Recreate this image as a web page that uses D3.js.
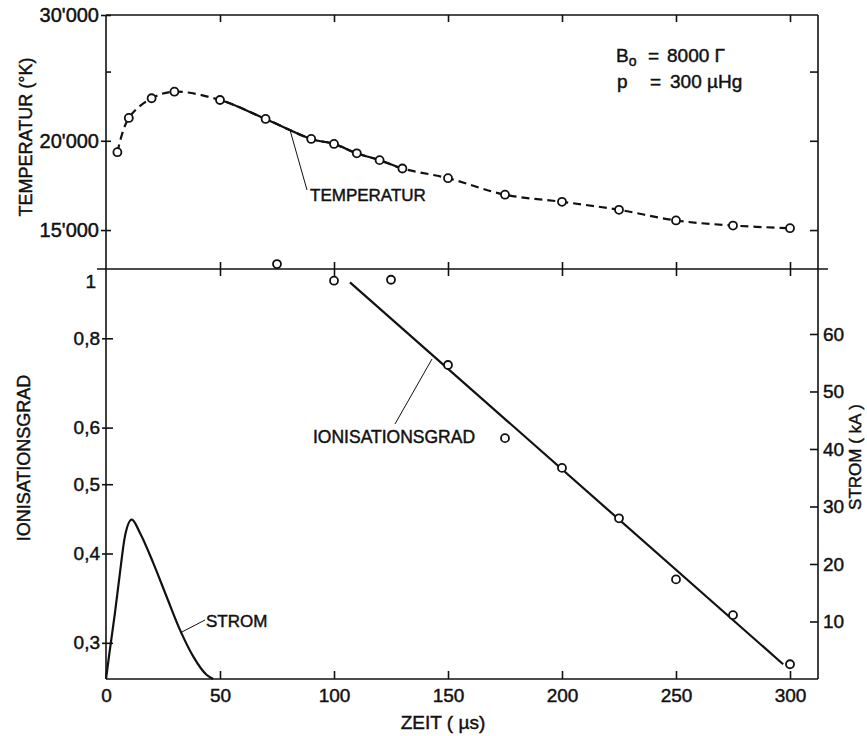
<!DOCTYPE html>
<html><head><meta charset="utf-8">
<script src="https://cdn.jsdelivr.net/npm/d3@7"></script>
<style>
body{margin:0;background:#fff}
svg{display:block}
text{font-family:"Liberation Sans",Arial,sans-serif;fill:#111;stroke:#111;stroke-width:0.45px}
</style>
</head><body>
<svg id="c" width="867" height="736"></svg>
<script>
// ---- data ----
const timeTicks = [0, 50, 100, 150, 200, 250, 300];
const timeTickLabels = ["0", "50", "100", "150", "200", "250", "300"];

const tempTime   = [5, 10, 20, 30, 50, 70, 90, 100, 110, 120, 130, 150, 175, 200, 225, 250, 275, 300];
const tempValues = [19280, 21530, 22940, 23430, 22810, 21460, 20120, 19800, 19210, 18790, 18290, 17730, 16810, 16430, 16010, 15470, 15220, 15090];
const tempSolidFrom = 50, tempSolidTo = 130;
const tempTicks = [15000, 20000, 25000, 30000];
const tempTickLabels = ["15'000", "20'000", "", "30'000"];

const ionTime   = [75, 100, 125, 150, 175, 200, 225, 250, 275, 300];
const ionValues = [1.016, 0.963, 0.966, 0.734, 0.580, 0.527, 0.448, 0.368, 0.328, 0.280];
const ionFitTime   = [107, 297];
const ionFitValues = [0.958, 0.280];
const ionTicks = [0.3, 0.4, 0.5, 0.6, 0.8, 1];
const ionTickLabels = ["0,3", "0,4", "0,5", "0,6", "0,8", "1"];

const stromTime   = [0, 1.5, 3.9, 6.1, 8.3, 11.3, 14.9, 20.7, 26.6, 32.5, 38.3, 44.2, 47];
const stromValues = [0, 4.5, 11.4, 18.4, 24.8, 27.7, 25.4, 20.2, 14.3, 8.5, 3.9, 0.7, 0];
const stromTicks = [10, 20, 30, 40, 50, 60];

// ---- layout ----
const L = 106, R = 818, TOP = 15, MID = 269, BOT = 679;
const svg = d3.select("#c");
const x  = d3.scaleLinear([0, 300], [106, 790]);
const yT = d3.scaleLog([13230, 30000], [MID, TOP]);
const yI = d3.scaleLog([0.267, 1], [BOT, MID]);
const yS = d3.scaleLinear([0, 71.3], [BOT, MID]);

const ink = "#111";

// frame
const frame = svg.append("g").attr("stroke", ink).attr("stroke-width", 1.6).attr("fill", "none");
frame.append("line").attr("x1", L).attr("x2", R).attr("y1", TOP).attr("y2", TOP);
frame.append("line").attr("x1", 97).attr("x2", 828).attr("y1", MID).attr("y2", MID);
frame.append("line").attr("x1", L).attr("x2", R).attr("y1", BOT).attr("y2", BOT);
frame.append("line").attr("x1", L).attr("x2", L).attr("y1", TOP).attr("y2", BOT);
frame.append("line").attr("x1", R).attr("x2", R).attr("y1", TOP).attr("y2", BOT);

function styleAxis(g, fs) {
  g.select(".domain").remove();
  g.selectAll(".tick line").attr("stroke", ink).attr("stroke-width", 1.6);
  g.selectAll(".tick text").attr("fill", ink).style("font-size", fs + "px")
    .style("font-family", '"Liberation Sans",Arial,sans-serif');
}

// bottom time axis with labels
const gxb = svg.append("g").attr("transform", `translate(0,${BOT})`)
  .call(d3.axisBottom(x).tickValues(timeTicks).tickSize(-8).tickPadding(10)
    .tickFormat((d, i) => timeTickLabels[i]));
styleAxis(gxb, 19);
gxb.selectAll(".tick line").filter(d => d === 0).remove();

// top time ticks
const gxt = svg.append("g").attr("transform", `translate(0,${TOP})`)
  .call(d3.axisTop(x).tickValues(timeTicks.slice(1)).tickSize(-7).tickFormat(""));
styleAxis(gxt, 10);

// middle time ticks (crossing)
const gxm = svg.append("g").attr("transform", `translate(0,${MID})`)
  .call(d3.axisBottom(x).tickValues(timeTicks.slice(1)).tickSize(7).tickFormat(""));
styleAxis(gxm, 10);
gxm.selectAll(".tick line").attr("y1", -7).attr("y2", 7);

// temperature left axis
const gyT = svg.append("g").attr("transform", `translate(${L},0)`)
  .call(d3.axisLeft(yT).tickValues(tempTicks).tickSize(5).tickPadding(2)
    .tickFormat(d => tempTickLabels[tempTicks.indexOf(d)]));
styleAxis(gyT, 20);
gyT.selectAll(".tick line").attr("x1", d => d === 25000 ? 0 : -5).attr("x2", 5);

// temperature right ticks
const gyTr = svg.append("g").attr("transform", `translate(${R},0)`)
  .call(d3.axisRight(yT).tickValues(tempTicks.slice(0, 3)).tickSize(-8).tickFormat(""));
styleAxis(gyTr, 10);

// ionisation left axis
const gyI = svg.append("g").attr("transform", `translate(${L},0)`)
  .call(d3.axisLeft(yI).tickValues(ionTicks).tickSize(4).tickPadding(2)
    .tickFormat(d => ionTickLabels[ionTicks.indexOf(d)]));
styleAxis(gyI, 19);
gyI.selectAll(".tick line").attr("x1", -4).attr("x2", 7);
gyI.selectAll(".tick").filter(d => d === 1).each(function () {
  d3.select(this).select("line").remove();
  d3.select(this).select("text").attr("y", 12).attr("x", -10);
});

// strom right axis
const gyS = svg.append("g").attr("transform", `translate(${R},0)`)
  .call(d3.axisRight(yS).tickValues(stromTicks).tickSize(-8).tickPadding(5));
styleAxis(gyS, 19);

// axis titles
svg.append("text").attr("transform", "translate(32,137) rotate(-90)")
  .attr("text-anchor", "middle").style("font-size", "18px").text("TEMPERATUR (°K)");
svg.append("text").attr("transform", "translate(30,458) rotate(-90)")
  .attr("text-anchor", "middle").style("font-size", "18px").text("IONISATIONSGRAD");
svg.append("text").attr("transform", "translate(861,457) rotate(-90)")
  .attr("text-anchor", "middle").style("font-size", "17px").text("STROM ( kA )");
svg.append("text").attr("x", 443).attr("y", 729)
  .attr("text-anchor", "middle").style("font-size", "19px").text("ZEIT ( µs)");

// ---- temperature curve ----
const tempData = tempTime.map((t, i) => ({ t, v: tempValues[i] }));
const tLine = d3.line().x(d => x(d.t)).y(d => yT(d.v)).curve(d3.curveCatmullRom.alpha(0.5));
const dashed = svg.append("path").datum(tempData).attr("d", tLine)
  .attr("fill", "none").attr("stroke", ink).attr("stroke-width", 2.2)
  .attr("stroke-dasharray", "8,5");
// solid middle part via dasharray on a copy
const pnode = dashed.node();
const total = pnode.getTotalLength();
function lenAtX(px) {
  let lo = 0, hi = total;
  for (let k = 0; k < 40; k++) {
    const m = (lo + hi) / 2;
    if (pnode.getPointAtLength(m).x < px) lo = m; else hi = m;
  }
  return lo;
}
const l1 = lenAtX(x(tempSolidFrom)), l2 = lenAtX(x(tempSolidTo));
svg.append("path").datum(tempData).attr("d", tLine)
  .attr("fill", "none").attr("stroke", ink).attr("stroke-width", 2.2)
  .attr("stroke-dasharray", `0,${l1},${l2 - l1},${total}`);

svg.append("g").selectAll("circle").data(tempData).join("circle")
  .attr("cx", d => x(d.t)).attr("cy", d => yT(d.v)).attr("r", 4)
  .attr("fill", "#fff").attr("stroke", ink).attr("stroke-width", 1.8);

// ---- ionisation ----
const ionFit = ionFitTime.map((t, i) => ({ t, v: ionFitValues[i] }));
svg.append("path").datum(ionFit)
  .attr("d", d3.line().x(d => x(d.t)).y(d => yI(d.v)))
  .attr("fill", "none").attr("stroke", ink).attr("stroke-width", 2.2);
const ionData = ionTime.map((t, i) => ({ t, v: ionValues[i] }));
svg.append("g").selectAll("circle").data(ionData).join("circle")
  .attr("cx", d => x(d.t)).attr("cy", d => yI(d.v)).attr("r", 4)
  .attr("fill", "#fff").attr("stroke", ink).attr("stroke-width", 1.8);

// ---- strom ----
const stromData = stromTime.map((t, i) => ({ t, v: stromValues[i] }));
svg.append("path").datum(stromData)
  .attr("d", d3.line().x(d => x(d.t)).y(d => yS(d.v)).curve(d3.curveMonotoneX))
  .attr("fill", "none").attr("stroke", ink).attr("stroke-width", 2.2);

// ---- labels & leaders ----
const lead = svg.append("g").attr("stroke", ink).attr("stroke-width", 1);
lead.append("line").attr("x1", 290).attr("y1", 130).attr("x2", 307).attr("y2", 190);
svg.append("text").attr("x", 310).attr("y", 201).style("font-size", "17px").text("TEMPERATUR");

lead.append("line").attr("x1", 395).attr("y1", 424).attr("x2", 432).attr("y2", 359);
svg.append("text").attr("x", 313).attr("y", 443).style("font-size", "17.5px").text("IONISATIONSGRAD");

lead.append("line").attr("x1", 180).attr("y1", 633).attr("x2", 205).attr("y2", 620);
svg.append("text").attr("x", 206).attr("y", 627).style("font-size", "17px").text("STROM");

// parameters
const b = svg.append("text").attr("x", 616).attr("y", 62).style("font-size", "19px");
b.append("tspan").text("B");
b.append("tspan").attr("dy", 4).style("font-size", "14px").text("o");
svg.append("text").attr("x", 648).attr("y", 62).style("font-size", "19px").text("=");
svg.append("text").attr("x", 667).attr("y", 62).style("font-size", "19px").text("8000 Γ");
svg.append("text").attr("x", 617).attr("y", 88).style("font-size", "19px").text("p");
svg.append("text").attr("x", 650).attr("y", 88).style("font-size", "19px").text("=");
svg.append("text").attr("x", 670).attr("y", 88).style("font-size", "19px").text("300 µHg");
</script>
</body></html>
